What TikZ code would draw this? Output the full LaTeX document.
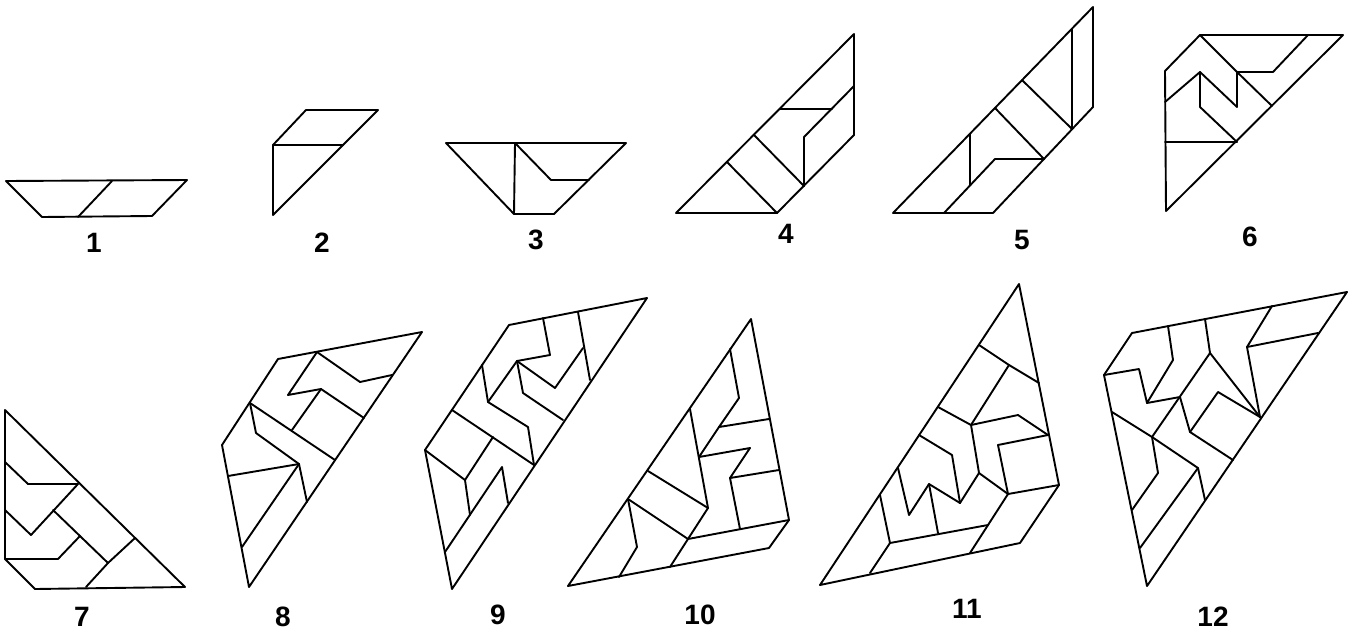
\documentclass[tikz,border=0pt]{standalone}
\usepackage{fontspec}
\setmainfont{Liberation Sans}
\begin{document}
\begin{tikzpicture}[x=1pt,y=-1pt,
  fig/.style={draw=black,line width=1.9pt,line join=round,line cap=round},
  lbl/.style={font=\fontsize{28}{28}\selectfont\bfseries,inner sep=0pt}]
\useasboundingbox (0,0) rectangle (1358,638);
% ---------- Figure 1
\draw[fig] (6,181) -- (187,180) -- (152,216) -- (42,217) -- cycle;
\draw[fig] (112,181) -- (78,217);
\node[lbl] (l1) at (94,243) {1};
% ---------- Figure 2
\draw[fig] (306,110) -- (378,110) -- (273,215) -- (273,145) -- cycle;
\draw[fig] (273,145) -- (343,145);
\node[lbl] (l2) at (322,243) {2};
% ---------- Figure 3
\draw[fig] (446,143) -- (626,143) -- (554,214) -- (514,214) -- cycle;
\draw[fig] (515,143) -- (514,214);
\draw[fig] (515,143) -- (551,180) -- (589,180);
\node[lbl] (l3) at (536,240) {3};
% ---------- Figure 4
\draw[fig] (676,213) -- (854,34) -- (854,135) -- (777,213) -- cycle;
\draw[fig] (727,162) -- (777,213);
\draw[fig] (754,135) -- (804,186) -- (804,137) -- (854,86);
\draw[fig] (780,109) -- (832,109);
\node[lbl] (l4) at (786,234) {4};
% ---------- Figure 5
\draw[fig] (893,213) -- (1093,7) -- (1093,107) -- (993,213) -- cycle;
\draw[fig] (1072,29) -- (1072,129);
\draw[fig] (1022,80) -- (1072,129);
\draw[fig] (995,108) -- (1044,159) -- (995,159) -- (944,213);
\draw[fig] (970,134) -- (970,185);
\node[lbl] (l5) at (1022,240) {5};
% ---------- Figure 6
\draw[fig] (1200,35) -- (1343,35) -- (1166,211) -- (1165,71) -- cycle;
\draw[fig] (1200,35) -- (1237,72) -- (1273,72) -- (1308,35);
\draw[fig] (1237,72) -- (1237,107);
\draw[fig] (1200,72) -- (1237,107);
\draw[fig] (1165,102) -- (1200,72) -- (1200,107) -- (1237,142);
\draw[fig] (1165,142) -- (1237,142);
\draw[fig] (1237,72) -- (1272,106);
\node[lbl] (l6) at (1250,237) {6};
% ---------- Figure 7
\draw[fig] (5,410) -- (185,587) -- (35,589) -- (5,559) -- cycle;
\draw[fig] (5,462) -- (28,484) -- (78,484);
\draw[fig] (5,510) -- (31,535) -- (78,484);
\draw[fig] (53,510) -- (108,563);
\draw[fig] (5,559) -- (58,559) -- (80,536);
\draw[fig] (135,538) -- (108,563) -- (86,587);
\node[lbl] (l7) at (82,617) {7};
% ---------- Figure 8
\draw[fig] (278,359) -- (422,332) -- (249,587) -- (222,445) -- cycle;
\draw[fig] (317,352) -- (360,382) -- (392,375);
\draw[fig] (317,352) -- (288,395) -- (321,389) -- (364,418);
\draw[fig] (321,389) -- (292,430);
\draw[fig] (250,403) -- (335,460);
\draw[fig] (250,403) -- (256,433) -- (299,464) -- (307,502);
\draw[fig] (228,476) -- (299,464);
\draw[fig] (299,464) -- (242,547);
\node[lbl] (l8) at (283,617) {8};
% ---------- Figure 9
\draw[fig] (509,325) -- (647,298) -- (452,589) -- (425,450) -- cycle;
\draw[fig] (543,318) -- (550,355) -- (517,361);
\draw[fig] (517,361) -- (555,388) -- (583,348);
\draw[fig] (578,312) -- (590,380);
\draw[fig] (517,361) -- (523,393) -- (563,420);
\draw[fig] (517,361) -- (488,402);
\draw[fig] (482,365) -- (488,402) -- (528,427) -- (534,465);
\draw[fig] (452,410) -- (534,465);
\draw[fig] (493,437) -- (465,480);
\draw[fig] (425,450) -- (465,480) -- (470,515);
\draw[fig] (445,552) -- (502,467) -- (508,503);
\node[lbl] (l9) at (498,615) {9};
% ---------- Figure 10
\draw[fig] (568,586) -- (751,319) -- (789,520) -- (769,548) -- cycle;
\draw[fig] (730,349) -- (739,398) -- (719,427) -- (769,419);
\draw[fig] (690,409) -- (708,508);
\draw[fig] (719,427) -- (699,457) -- (750,448) -- (730,478) -- (779,470);
\draw[fig] (730,478) -- (740,529);
\draw[fig] (688,539) -- (789,520);
\draw[fig] (708,508) -- (688,539) -- (670,567);
\draw[fig] (648,471) -- (708,508);
\draw[fig] (628,499) -- (688,539);
\draw[fig] (628,499) -- (637,547) -- (619,577);
\node[lbl] (l10) at (700,615) {10};
% ---------- Figure 11
\draw[fig] (820,585) -- (1019,284) -- (1059,485) -- (1020,543) -- cycle;
\draw[fig] (979,345) -- (1009,365) -- (1039,383);
\draw[fig] (1009,365) -- (971,425);
\draw[fig] (938,407) -- (971,425) -- (1018,415) -- (1048,435);
\draw[fig] (971,425) -- (979,473) -- (960,503);
\draw[fig] (979,473) -- (1008,494);
\draw[fig] (1048,435) -- (998,445) -- (1008,494);
\draw[fig] (1008,494) -- (1059,485);
\draw[fig] (1008,494) -- (970,553);
\draw[fig] (919,435) -- (952,455) -- (960,503);
\draw[fig] (960,503) -- (929,484) -- (909,515) -- (898,468);
\draw[fig] (929,484) -- (938,533);
\draw[fig] (880,495) -- (890,543) -- (988,525);
\draw[fig] (890,543) -- (870,573);
\node[lbl] (l11) at (967,609) {11};
% ---------- Figure 12
\draw[fig] (1132,333) -- (1347,292) -- (1147,586) -- (1104,375) -- cycle;
\draw[fig] (1168,326) -- (1173,360) -- (1147,403) -- (1139,369) -- (1104,375);
\draw[fig] (1147,403) -- (1180,397);
\draw[fig] (1205,319) -- (1210,353) -- (1152,437);
\draw[fig] (1210,353) -- (1260,417);
\draw[fig] (1272,306) -- (1247,347) -- (1260,417);
\draw[fig] (1247,347) -- (1318,333);
\draw[fig] (1180,397) -- (1190,432) -- (1233,460);
\draw[fig] (1190,432) -- (1218,392) -- (1260,417);
\draw[fig] (1112,412) -- (1152,437) -- (1198,468) -- (1205,500);
\draw[fig] (1152,437) -- (1158,473) -- (1132,510);
\draw[fig] (1198,468) -- (1140,548);
\node[lbl] (l12) at (1213,617) {12};
\end{tikzpicture}
\end{document}
